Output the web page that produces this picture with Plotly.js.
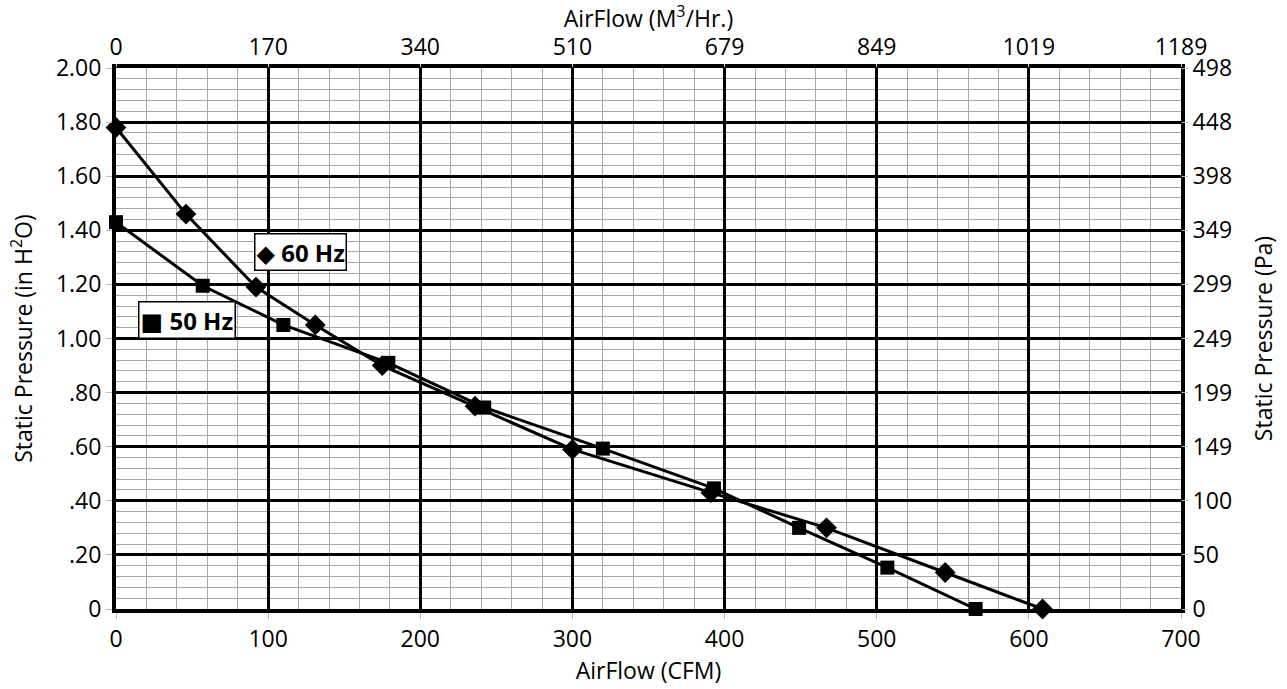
<!DOCTYPE html>
<html>
<head>
<meta charset="utf-8">
<script src="https://cdn.plot.ly/plotly-3.0.1.min.js"></script>
<style>html,body{margin:0;padding:0;background:#fff;}#chart{width:1287px;height:689px;}</style>
</head>
<body>
<div id="chart"></div>
<script>
// Data
const cfm60 = [0, 46, 92, 131, 175, 236, 300, 391, 467, 545, 609];
const sp60  = [1.78, 1.46, 1.19, 1.05, 0.90, 0.75, 0.59, 0.43, 0.30, 0.135, 0];
const cfm50 = [0, 57, 110, 179, 242, 320, 393, 449, 507, 565];
const sp50  = [1.43, 1.195, 1.05, 0.91, 0.745, 0.593, 0.446, 0.30, 0.153, 0];

const xTickVals = [0, 100, 200, 300, 400, 500, 600, 700];
const xTickText = ['0', '100', '200', '300', '400', '500', '600', '700'];
const topTickText = ['0', '170', '340', '510', '679', '849', '1019', '1189'];
const yTickVals = [0, 0.2, 0.4, 0.6, 0.8, 1.0, 1.2, 1.4, 1.6, 1.8, 2.0];
const yTickText = ['0', '.20', '.40', '.60', '.80', '1.00', '1.20', '1.40', '1.60', '1.80', '2.00'];
const paTickText = ['0', '50', '100', '149', '199', '249', '299', '349', '398', '448', '498'];

const FONT = 'Open Sans, DejaVu Sans, sans-serif';
const FS = 23;

const traces = [
  // invisible helper traces so the secondary (top / right) axes are drawn
  {x: cfm60, y: sp60, xaxis: 'x2', yaxis: 'y', type: 'scatter', mode: 'markers',
   marker: {opacity: 0}, hoverinfo: 'skip', showlegend: false},
  {x: cfm50, y: sp50, xaxis: 'x', yaxis: 'y2', type: 'scatter', mode: 'markers',
   marker: {opacity: 0}, hoverinfo: 'skip', showlegend: false},
  {x: cfm60, y: sp60, type: 'scatter', mode: 'lines+markers', name: '60 Hz',
   line: {color: '#000', width: 3}, marker: {symbol: 'diamond', size: 16, color: '#000'},
   cliponaxis: false, showlegend: false},
  {x: cfm50, y: sp50, type: 'scatter', mode: 'lines+markers', name: '50 Hz',
   line: {color: '#000', width: 3}, marker: {symbol: 'square', size: 14, color: '#000'},
   cliponaxis: false, showlegend: false}
];

const tickCommon = {ticks: 'outside', ticklen: 3, tickcolor: '#bbb', tickwidth: 1,
  tickfont: {family: FONT, size: FS, color: '#000'}};

const layout = {
  width: 1287, height: 689,
  margin: {l: 116, r: 106, t: 68, b: 80},
  paper_bgcolor: '#fff', plot_bgcolor: '#fff',
  font: {family: FONT, color: '#000', size: FS},
  showlegend: false,
  xaxis: Object.assign({
    range: [0, 700], tickmode: 'array', tickvals: xTickVals, ticktext: xTickText,
    showgrid: true, gridcolor: '#000', gridwidth: 3,
    minor: {tickmode: 'linear', tick0: 0, dtick: 20, showgrid: true, gridcolor: '#a8a8a8', gridwidth: 1, ticks: ''},
    zeroline: false, showline: true, linecolor: '#000', linewidth: 4, mirror: true,
    title: {text: 'AirFlow (CFM)', font: {family: FONT, size: FS}, standoff: 6}
  }, tickCommon, {ticklen: 6}),
  yaxis: Object.assign({
    range: [0, 2], tickmode: 'array', tickvals: yTickVals, ticktext: yTickText,
    showgrid: true, gridcolor: '#000', gridwidth: 3,
    minor: {tickmode: 'linear', tick0: 0, dtick: 0.04, showgrid: true, gridcolor: '#a8a8a8', gridwidth: 1, ticks: ''},
    zeroline: false, showline: true, linecolor: '#000', linewidth: 4, mirror: true,
    title: {text: 'Static Pressure (in H<sup>2</sup>O)', font: {family: FONT, size: FS}, standoff: 18}
  }, tickCommon, {ticklen: 6}),
  xaxis2: Object.assign({
    overlaying: 'x', side: 'top', anchor: 'y', range: [0, 700],
    tickmode: 'array', tickvals: xTickVals, ticktext: topTickText,
    showgrid: false, zeroline: false, showline: false,
    title: {text: 'AirFlow (M<sup>3</sup>/Hr.)', font: {family: FONT, size: FS}, standoff: 2}
  }, tickCommon),
  yaxis2: Object.assign({
    overlaying: 'y', side: 'right', anchor: 'x', range: [0, 2],
    tickmode: 'array', tickvals: yTickVals, ticktext: paTickText,
    showgrid: false, zeroline: false, showline: false,
    title: {text: 'Static Pressure (Pa)', font: {family: FONT, size: FS}, standoff: 24}
  }, tickCommon, {ticklen: 6}),
  annotations: [
    {x: 121.5, y: 1.32, xref: 'x', yref: 'y', text: '<b>\u25C6 60 Hz</b>', showarrow: false,
     font: {family: FONT, size: 24, color: '#000'}, bgcolor: '#fff', bordercolor: '#000', borderwidth: 1.5, borderpad: 1},
    {x: 46.6, y: 1.07, xref: 'x', yref: 'y', text: '<b>\u25A0 50 Hz</b>', showarrow: false,
     font: {family: FONT, size: 24, color: '#000'}, bgcolor: '#fff', bordercolor: '#000', borderwidth: 1.5, borderpad: 1}
  ]
};

Plotly.newPlot('chart', traces, layout, {displayModeBar: false, staticPlot: true});
</script>
</body>
</html>
